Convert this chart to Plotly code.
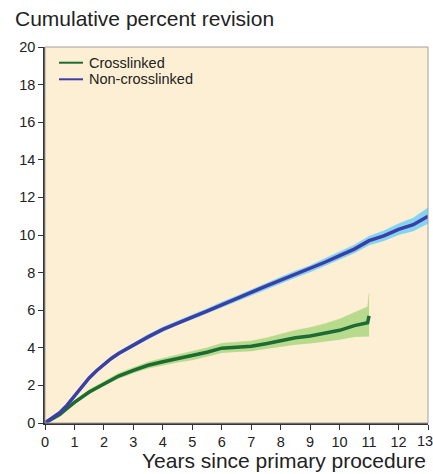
import plotly.graph_objects as go

# Non-crosslinked
b_years = [0, 0.25, 0.5, 0.75, 1, 1.25, 1.5, 1.75, 2, 2.25, 2.5, 3, 3.5, 4, 4.5, 5, 5.5, 6, 6.5, 7, 7.5, 8, 8.5, 9, 9.5, 10, 10.5, 11, 11.5, 12, 12.5, 13]
b_val = [0, 0.25, 0.55, 0.95, 1.45, 1.95, 2.4, 2.78, 3.12, 3.43, 3.7, 4.15, 4.58, 4.98, 5.33, 5.63, 5.95, 6.3, 6.6, 6.95, 7.28, 7.6, 7.9, 8.2, 8.55, 8.9, 9.25, 9.7, 9.95, 10.3, 10.55, 11.0]
b_lo = [0, 0.22, 0.5, 0.88, 1.37, 1.87, 2.31, 2.69, 3.02, 3.33, 3.6, 4.04, 4.46, 4.86, 5.21, 5.5, 5.82, 6.16, 6.45, 6.8, 7.12, 7.44, 7.72, 8.02, 8.35, 8.7, 9.03, 9.46, 9.68, 10.0, 10.2, 10.6]
b_hi = [0, 0.28, 0.6, 1.02, 1.53, 2.03, 2.49, 2.87, 3.22, 3.53, 3.8, 4.26, 4.7, 5.1, 5.45, 5.76, 6.08, 6.44, 6.75, 7.1, 7.44, 7.76, 8.08, 8.38, 8.75, 9.1, 9.47, 9.94, 10.22, 10.6, 10.9, 11.45]

# Crosslinked
g_years = [0, 0.25, 0.5, 0.75, 1, 1.5, 2, 2.5, 3, 3.5, 4, 4.5, 5, 5.5, 6, 6.5, 7, 7.5, 8, 8.5, 9, 9.5, 10, 10.5, 10.95, 11]
g_val = [0, 0.2, 0.45, 0.78, 1.1, 1.65, 2.1, 2.5, 2.8, 3.07, 3.26, 3.42, 3.56, 3.76, 3.98, 4.03, 4.08, 4.22, 4.38, 4.53, 4.63, 4.78, 4.93, 5.18, 5.33, 5.7]
g_lo = [0, 0.17, 0.4, 0.7, 1.0, 1.53, 1.97, 2.35, 2.65, 2.9, 3.08, 3.22, 3.34, 3.52, 3.73, 3.78, 3.81, 3.93, 4.05, 4.16, 4.23, 4.33, 4.43, 4.58, 4.6, 4.6]
g_hi = [0, 0.23, 0.5, 0.86, 1.2, 1.77, 2.23, 2.65, 2.95, 3.24, 3.44, 3.62, 3.78, 4.0, 4.24, 4.3, 4.36, 4.52, 4.73, 4.93, 5.08, 5.28, 5.53, 5.88, 6.18, 6.9]

legend_names = ["Crosslinked", "Non-crosslinked"]

x_ticks = list(range(0, 14))
y_ticks = list(range(0, 21, 2))

BLUE = "#3a3fa6"
BLUE_BAND = "#84d3f3"
GREEN = "#1c6b32"
GREEN_BAND = "#b7da8c"
FONT = "Liberation Sans, Arial, sans-serif"

fig = go.Figure()

# bands
fig.add_trace(go.Scatter(x=g_years, y=g_lo, mode="lines", line=dict(width=0, color=GREEN_BAND),
                         showlegend=False, hoverinfo="skip"))
fig.add_trace(go.Scatter(x=g_years, y=g_hi, mode="lines", line=dict(width=0.5, color=GREEN_BAND),
                         fill="tonexty", fillcolor=GREEN_BAND, showlegend=False, hoverinfo="skip"))
fig.add_trace(go.Scatter(x=b_years, y=b_lo, mode="lines", line=dict(width=0, color=BLUE_BAND),
                         showlegend=False, hoverinfo="skip"))
fig.add_trace(go.Scatter(x=b_years, y=b_hi, mode="lines", line=dict(width=0.5, color=BLUE_BAND),
                         fill="tonexty", fillcolor=BLUE_BAND, showlegend=False, hoverinfo="skip"))

# lines
fig.add_trace(go.Scatter(x=g_years, y=g_val, mode="lines", name=legend_names[0],
                         line=dict(color=GREEN, width=3.5), showlegend=False))
fig.add_trace(go.Scatter(x=b_years, y=b_val, mode="lines", name=legend_names[1],
                         line=dict(color=BLUE, width=3.5), showlegend=False))

fig.update_layout(
    width=433, height=474,
    margin=dict(l=45, r=5, t=47, b=51, autoexpand=False),
    paper_bgcolor="white",
    plot_bgcolor="#fdefd3",
    font=dict(family=FONT, size=14.5, color="#222"),
    title=dict(text="Cumulative percent revision", x=15/433, xanchor="left",
               y=1 - 19/474, yanchor="middle", yref="container",
               font=dict(size=21, color="#222", family=FONT)),
    showlegend=False,
)

# last x tick label is placed as an annotation so it stays inside the page
x_text = [str(v) for v in x_ticks[:-1]] + [""]
fig.update_xaxes(range=[0, 13], tickvals=x_ticks, ticktext=x_text,
                 ticks="outside", ticklen=5, tickcolor="#333", showline=True, linecolor="#333",
                 linewidth=1.5, showgrid=False, zeroline=False, tickfont=dict(size=14.5),
                 ticklabeloverflow="allow", automargin=False)
fig.update_yaxes(range=[0, 20], tickvals=y_ticks, ticktext=[str(v) for v in y_ticks],
                 ticks="outside", ticklen=5, tickcolor="#333", showline=True, linecolor="#333",
                 linewidth=1.5, showgrid=False, zeroline=False, tickfont=dict(size=14.5),
                 ticklabeloverflow="allow", automargin=False)

PW, PH = 383.0, 376.0
fig.add_annotation(text=str(x_ticks[-1]), xref="x", yref="paper", x=x_ticks[-1], xshift=-3,
                   y=(423 - 441) / PH, xanchor="center", yanchor="middle", showarrow=False,
                   font=dict(size=14.5, color="#222", family=FONT))

fig.add_shape(type="rect", xref="paper", yref="paper", x0=0, y0=0, x1=1, y1=1,
              line=dict(color="#a0a0a0", width=1), fillcolor="rgba(0,0,0,0)", layer="above")

# manual legend
for i, (name, col) in enumerate(zip(legend_names, [GREEN, BLUE])):
    yp = (423 - (62.7 + 16.6 * i)) / PH
    fig.add_shape(type="line", xref="paper", yref="paper", x0=(59 - 45) / PW, x1=(83 - 45) / PW,
                  y0=yp, y1=yp, line=dict(color=col, width=2))
    fig.add_annotation(text=name, xref="paper", yref="paper", x=(87 - 45) / PW, y=yp,
                       xanchor="left", yanchor="middle", showarrow=False,
                       font=dict(size=14.5, color="#222", family=FONT))

fig.add_annotation(text="Years since primary procedure", xref="paper", yref="paper",
                   x=1.0, y=(423 - 461) / PH, xanchor="right", yanchor="middle", showarrow=False,
                   font=dict(size=21, color="#222", family=FONT))

fig.write_html("out.html", config={"displayModeBar": False},
               post_script="document.body.style.margin='0';document.body.style.padding='0';")
